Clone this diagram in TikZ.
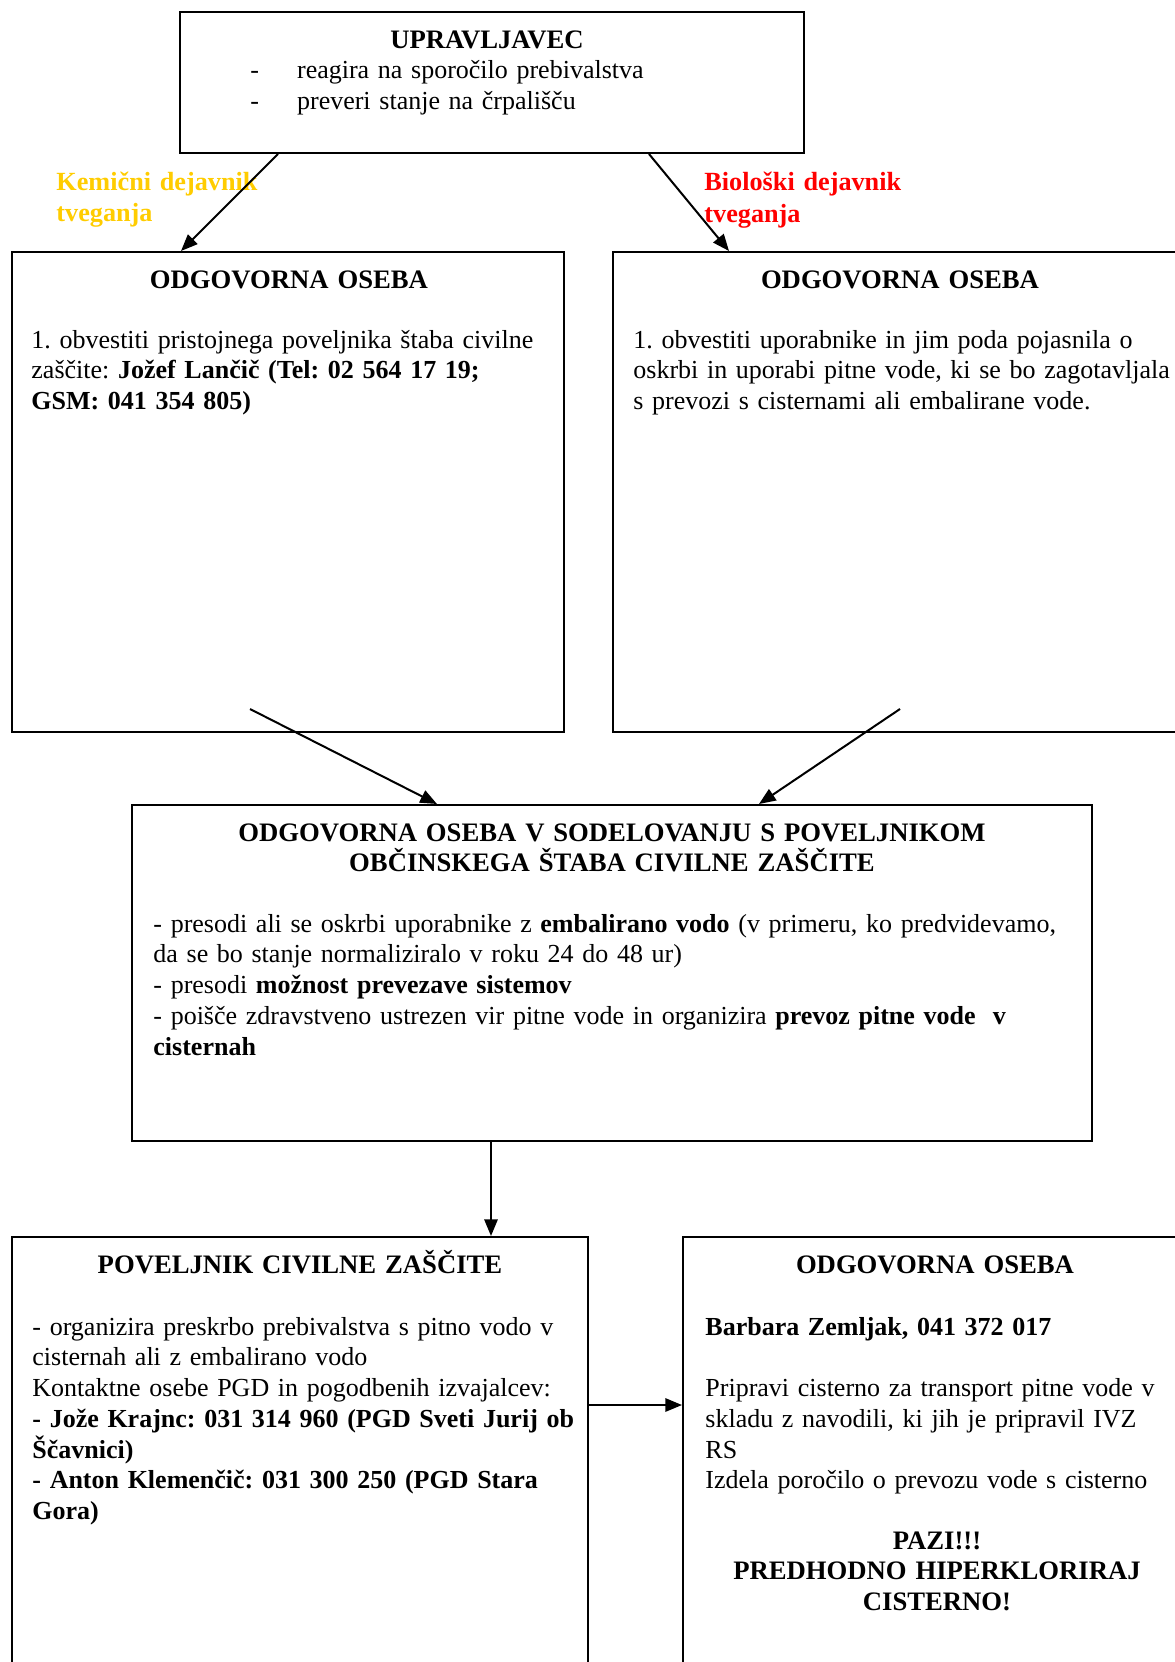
\documentclass[tikz,border=0pt]{standalone}
\usepackage{fontspec}
\setmainfont{Liberation Serif}
\usetikzlibrary{arrows.meta,fit,calc}
\frenchspacing

\definecolor{kemijska}{RGB}{255,204,0}
\definecolor{bioloska}{RGB}{255,0,0}

\tikzset{
    okvir/.style={draw, line width=0.9pt, inner sep=0pt},
    naslov/.style={font=\fontsize{12}{13.85}\selectfont\bfseries, align=center,
        text width=#1, inner sep=0pt, anchor=base},
    besedilo/.style={font=\fontsize{11.7}{13.85}\selectfont, align=left,
        text width=#1, inner sep=0pt, anchor=base west},
    oznaka/.style={font=\fontsize{11.8}{14}\selectfont\bfseries, align=left,
        text width=100pt, inner sep=0pt, anchor=base west},
    puscica/.style={-{Triangle[length=7.5pt,width=6pt]}, line width=0.9pt}
}

\begin{document}
\begin{tikzpicture}[x=0.45pt, y=-0.45pt]
        \clip (0,0) rectangle (1175,1662);

        % okvirji
        \node[okvir, fit={(180,12) (804,153)}] (upr) {};
        \node[okvir, fit={(12,252) (564,732)}] (levo) {};
        \node[okvir, fit={(613,252) (1200,732)}] (desno) {};
        \node[okvir, fit={(132,805) (1092,1141)}] (sredina) {};
        \node[okvir, fit={(12,1237) (588,1700)}] (poveljnik) {};
        \node[okvir, fit={(683,1237) (1200,1700)}] (oseba) {};

        % upravljavec
        \node[naslov=250pt] (upr-naslov) at (487,49) {UPRAVLJAVEC};
        \node[besedilo=300pt] (upr-besedilo) at (250,79)
            {\makebox[21pt][l]{-}reagira na sporočilo prebivalstva\\
             \makebox[21pt][l]{-}preveri stanje na črpališču};

        % dejavnika tveganja
        \node[oznaka, text=kemijska] (kemicni) at (56,190) {Kemični dejavnik\\ tveganja};
        \node[oznaka, text=bioloska] (bioloski) at (704,191) {Biološki dejavnik\\ tveganja};

        % odgovorna oseba - levo
        \node[naslov=240pt] (levo-naslov) at (289,288) {ODGOVORNA OSEBA};
        \node[besedilo=250pt] (levo-besedilo) at (31,348)
            {1. obvestiti pristojnega poveljnika štaba civilne\\
             zaščite: \textbf{Jožef Lančič (Tel: 02 564 17 19;}\\
             \textbf{GSM: 041 354 805)}};

        % odgovorna oseba - desno
        \node[naslov=240pt] (desno-naslov) at (900,288) {ODGOVORNA OSEBA};
        \node[besedilo=260pt] (desno-besedilo) at (633,348)
            {1. obvestiti uporabnike in jim poda pojasnila o\\
             oskrbi in uporabi pitne vode, ki se bo zagotavljala\\
             s prevozi s cisternami ali embalirane vode.};

        % sodelovanje s poveljnikom
        \node[naslov=440pt] (sredina-naslov) at (612,841)
            {ODGOVORNA OSEBA V SODELOVANJU S POVELJNIKOM\\
             OBČINSKEGA ŠTABA CIVILNE ZAŠČITE};
        \node[besedilo=440pt] (sredina-besedilo) at (153,932)
            {- presodi ali se oskrbi uporabnike z \textbf{embalirano vodo} (v primeru, ko predvidevamo,\\
             da se bo stanje normaliziralo v roku 24 do 48 ur)\\
             - presodi \textbf{možnost prevezave sistemov}\\
             - poišče zdravstveno ustrezen vir pitne vode in organizira \textbf{prevoz pitne vode~ v}\\
             \textbf{cisternah}};

        % poveljnik civilne zaščite
        \node[naslov=250pt] (poveljnik-naslov) at (300,1273) {POVELJNIK CIVILNE ZAŠČITE};
        \node[besedilo=260pt] (poveljnik-besedilo) at (32,1335)
            {- organizira preskrbo prebivalstva s pitno vodo v\\
             cisternah ali z embalirano vodo\\
             Kontaktne osebe PGD in pogodbenih izvajalcev:\\
             \textbf{- Jože Krajnc: 031 314 960 (PGD Sveti Jurij ob}\\
             \textbf{Ščavnici)}\\
             \textbf{- Anton Klemenčič: 031 300 250 (PGD Stara}\\
             \textbf{Gora)}};

        % odgovorna oseba - cisterna
        \node[naslov=220pt] (oseba-naslov) at (935,1273) {ODGOVORNA OSEBA};
        \node[besedilo=230pt] (oseba-besedilo) at (705,1335)
            {\textbf{Barbara Zemljak, 041 372 017}\\[13.85pt]
             Pripravi cisterno za transport pitne vode v\\
             skladu z navodili, ki jih je pripravil IVZ\\
             RS\\
             Izdela poročilo o prevozu vode s cisterno};
        \node[naslov=220pt] (pazi) at (937,1549)
            {PAZI!!!\\ PREDHODNO HIPERKLORIRAJ\\ CISTERNO!};

        % puscice
        \draw[puscica] ($(upr.south west)+(99,0)$) -- ($(levo.north west)+(170,0)$);
        \draw[puscica] ($(upr.south west)+(470,0)$) -- ($(desno.north west)+(117,0)$);
        \draw[puscica] ($(levo.south west)+(239,-24)$) -- ($(sredina.north west)+(306,0)$);
        \draw[puscica] ($(desno.south west)+(288,-24)$) -- ($(sredina.north west)+(628,0)$);
        \draw[puscica] ($(sredina.south west)+(360,0)$) -- ($(poveljnik.north west)+(480,0)$);
        \draw[puscica] ($(poveljnik.north east)+(0,169)$) -- ($(oseba.north west)+(0,169)$);

    \end{tikzpicture}
\end{document}
